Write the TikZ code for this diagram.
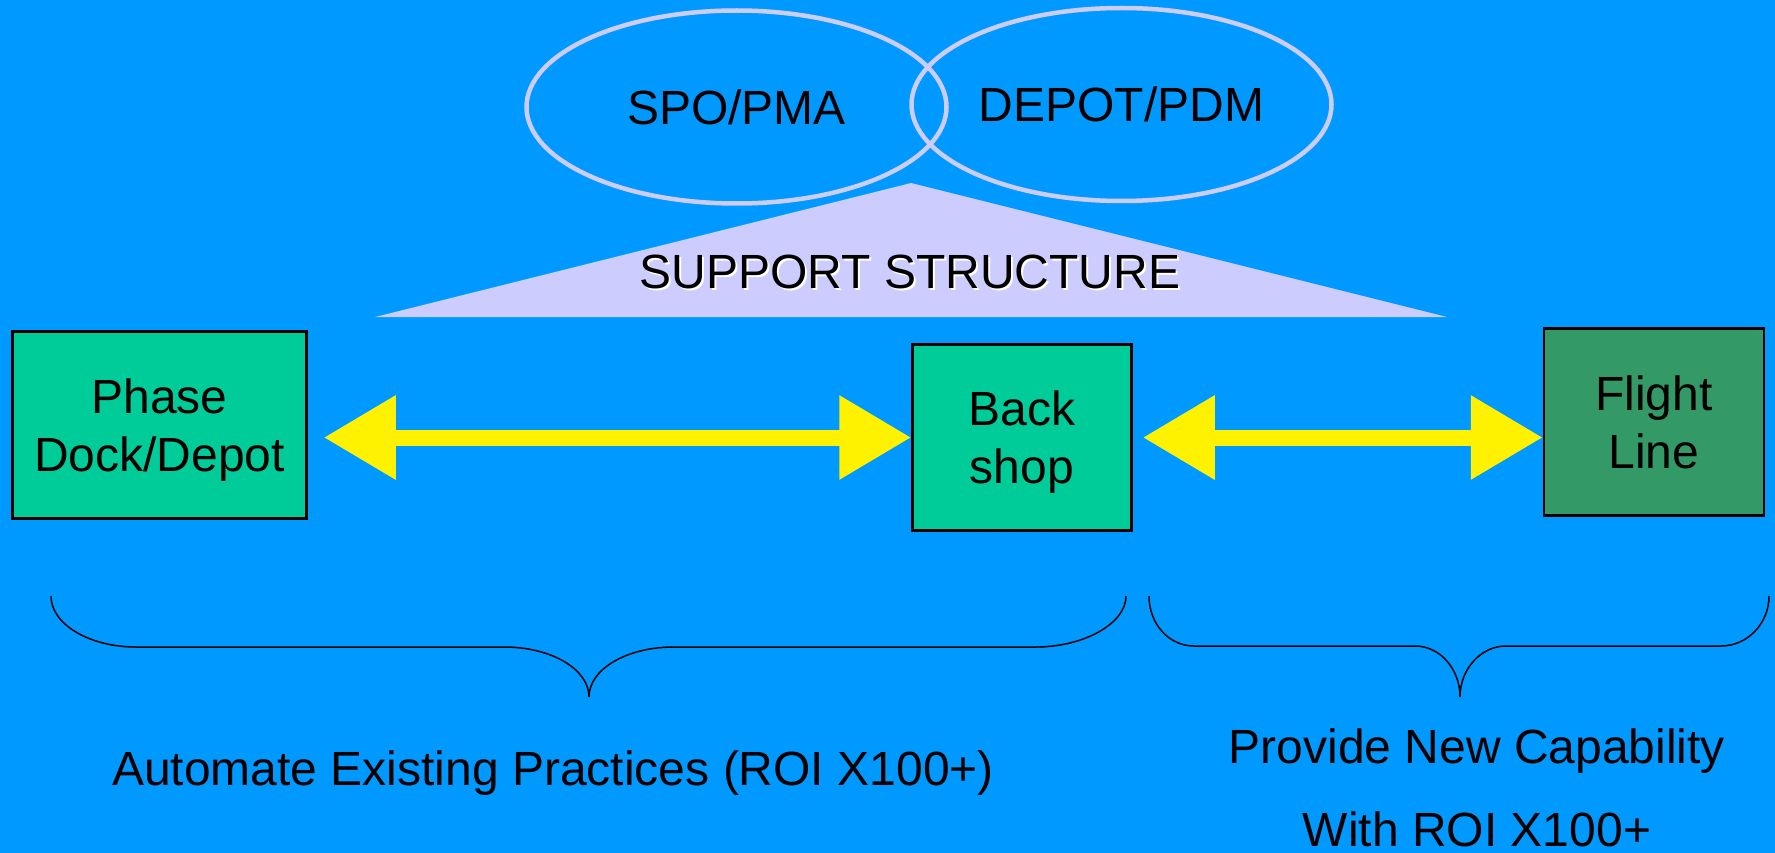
\documentclass[tikz,border=0pt]{standalone}
\usepackage{fontspec}
\setmainfont{Liberation Sans}
\usepackage{xcolor}
\usepackage{tikz}
\usetikzlibrary{positioning,shapes.geometric,arrows.meta}
\definecolor{slideblue}{HTML}{0099FF}
\definecolor{shopgreen}{HTML}{00CC99}
\definecolor{linegreen}{HTML}{339966}
\definecolor{lavender}{HTML}{CCCCFF}

\begin{document}
\begin{tikzpicture}
[x=1pt, y=-1pt, font=\fontsize{48}{58}\selectfont,
    unit/.style={rectangle, draw=black, line width=2.5pt, fill=shopgreen,
    align=center, text depth=0pt},
    office/.style={ellipse, draw=lavender, line width=4.5pt,
    minimum width=420pt, minimum height=193pt},
    >={Triangle[length=72pt 0 0, width=80pt 0 0]},
    link/.style={draw=yellow, line width=16pt, <->},
    bracket/.style={draw=black, line width=1.5pt},
    caption/.style={anchor=base}
    ]

    \fill[slideblue] (0,0) rectangle (1775,853);
    \useasboundingbox (0,0) rectangle (1775,853);

    \coordinate (apex) at (911,183);
    \coordinate (baseL) at (375,317);
    \coordinate (baseR) at (1447,317);
    \fill[lavender] (baseL) -- (apex) -- (baseR) -- cycle;
    \node[caption, white] (supshade) at (912,290) {SUPPORT STRUCTURE};
    \node[caption] (support) at (910,288) {SUPPORT STRUCTURE};

    \node[office] (spo) at (736.5,107) {SPO/PMA};
    \node[office] (depot) at (1121.5,104.5) {DEPOT/PDM};

    \node[unit, minimum width=294pt, minimum height=187pt] (phase) at (159.5,425) {Phase\\Dock/Depot};
    \node[unit, minimum width=219pt, minimum height=186pt] (back) at (1022,437.5) {Back\\shop};
    \node[unit, fill=linegreen, minimum width=220pt, minimum height=187pt] (flight) at (1654,422) {Flight\\Line};

    \draw[link, shorten <=16pt] (phase.east |- back.west) -- (back.west);
    \draw[link, shorten <=10pt] (back.east) -- (back.east -| flight.west);

    \draw[bracket] (51,596) .. controls (51,624) and (89,647) .. (136,647) -- (504,647)
        .. controls (551,647) and (589,669) .. (589,697)
        .. controls (589,669) and (627,647) .. (674,647) -- (1036,647)
        .. controls (1083,647) and (1126,624) .. (1126,596);
    \draw[bracket] (1149,596) .. controls (1149,624) and (1169,646) .. (1194,646) -- (1415,646)
        .. controls (1440,646) and (1460,669) .. (1460,697)
        .. controls (1460,669) and (1481,646) .. (1506,646) -- (1721,646)
        .. controls (1747,646) and (1769,624) .. (1769,596);

    \node[caption] (automate) at (553,785) {Automate Existing Practices (ROI X100+)};
    \node[caption] (provide) at (1477,763) {Provide New Capability};
    \node[caption] (withroi) at (1477,846) {With ROI X100+};
\end{tikzpicture}
\end{document}
